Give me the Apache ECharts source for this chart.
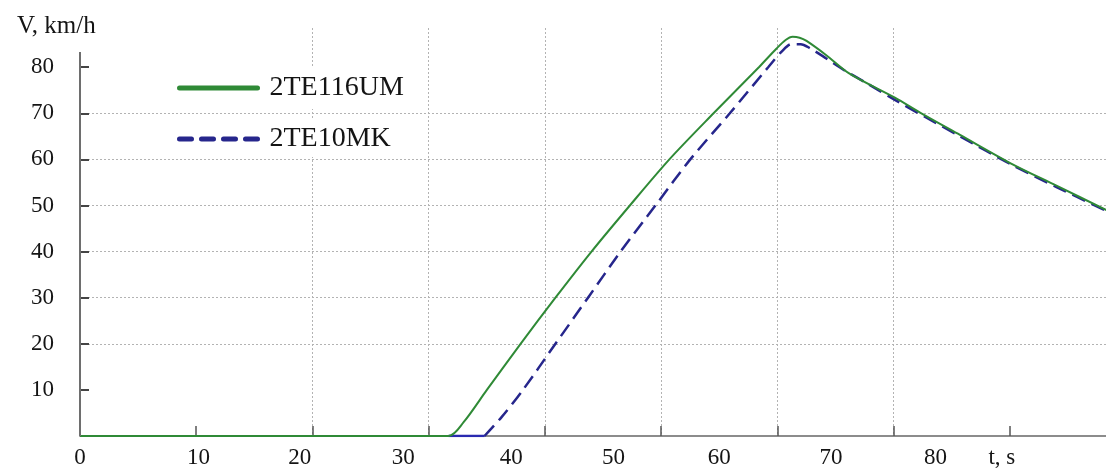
<!DOCTYPE html>
<html>
<head>
<meta charset="utf-8">
<script src="https://cdn.jsdelivr.net/npm/echarts@6/dist/echarts.min.js"></script>
<style>
  html, body { margin: 0; padding: 0; background: #fff; }
  #chart { width: 1106px; height: 470px; }
</style>
</head>
<body>
<div id="chart"></div>
<script>
// speed curves, [t, V] (t in grid units, 10 s per division)
var green = [
  [0, 0], [31.7, 0], [33.0, 3.0], [35.0, 10.0], [37.9, 20.0], [40.9, 30.0],
  [44.0, 40.0], [47.3, 50.0], [50.7, 60.0], [54.5, 70.0], [58.4, 80.0],
  [59.9, 84.0], [60.7, 85.9], [61.3, 86.6], [61.9, 86.4], [62.5, 85.7], [64.2, 82.6], [66.2, 78.6],
  [70.1, 73.4], [72.3, 70.1], [75.7, 65.3], [80.1, 59.1], [84.0, 54.3], [88.3, 49.0]
];
var blue = [
  [31.7, 0], [34.8, 0], [36.3, 4.2], [38.1, 10.0], [40.9, 20.0], [43.7, 30.0],
  [46.5, 40.0], [49.5, 50.0], [52.5, 60.0], [55.9, 70.0], [59.2, 80.0],
  [60.4, 83.5], [61.2, 85.0], [62.0, 85.0], [62.8, 84.1], [64.2, 81.9], [65.7, 79.4],
  [67.7, 76.5], [70.1, 72.9], [75.7, 65.0], [80.1, 58.9], [84.0, 54.0], [88.3, 48.8]
];
var seriesNames = ['2TE116UM', '2TE10MK'];

// grid ticks
var xTicks = [10, 20, 30, 40, 50, 60, 70, 80];
var yTicks = [10, 20, 30, 40, 50, 60, 70, 80];
// the printed t labels sit apart from the ticks in the original
var xLabelText = ['0', '10', '20', '30', '40', '50', '60', '70', '80', 't, s'];
var xLabelPos = [0, 10.2, 18.9, 27.8, 37.1, 45.9, 55.0, 64.6, 73.6, 79.3];
var yAxisTop = 83.3;

var font = 'Liberation Serif';
var txt = '#141414';

var chart = echarts.init(document.getElementById('chart'));

function legendBox(name, top, pad, line) {
  return {
    data: [name],
    left: 170, top: top,
    orient: 'vertical',
    padding: pad,
    backgroundColor: '#fff',
    itemWidth: 78, itemHeight: 14,
    selectedMode: false,
    lineStyle: line,
    itemStyle: { opacity: 0 },
    textStyle: { fontFamily: font, fontSize: 28, color: txt, padding: [4, 0, 0, 7] }
  };
}

var option = {
  animation: false,
  backgroundColor: '#fff',
  title: {
    text: 'V, km/h', left: 12, top: 9,
    textStyle: { fontFamily: font, fontSize: 25, fontWeight: 'normal', color: txt }
  },
  legend: [
    legendBox(seriesNames[0], 67, [7, 10, 7, 7], { width: 5, cap: 'round' }),
    legendBox(seriesNames[1], 118, [7, 10, 4, 7], { width: 5, type: [12, 10], cap: 'round' })
  ],
  grid: { left: 80, right: 0, top: 28, bottom: 34 },
  xAxis: [{
    type: 'value', min: 0, max: 88.26, interval: 10,
    axisLine: { lineStyle: { color: '#8c8c8c', width: 2 } },
    axisTick: { inside: true, length: 10, customValues: xTicks, lineStyle: { color: '#555', width: 1.5 } },
    axisLabel: { show: false },
    splitLine: { show: true, showMinLine: false, showMaxLine: false,
      lineStyle: { color: '#b3b3b3', width: 1, type: [2, 2] } }
  }, {
    type: 'value', position: 'bottom', min: 0, max: 88.26,
    axisLine: { show: false }, axisTick: { show: false }, splitLine: { show: false },
    axisLabel: {
      customValues: xLabelPos, margin: 10,
      fontFamily: font, fontSize: 23, color: txt,
      formatter: function (v) { return xLabelText[xLabelPos.indexOf(v)]; }
    }
  }],
  yAxis: {
    type: 'value', min: 0, max: 88.5, interval: 10,
    axisLine: { show: false },
    axisTick: { inside: true, length: 9, customValues: yTicks, lineStyle: { color: '#444', width: 2 } },
    axisLabel: { customValues: yTicks, margin: 26, fontFamily: font, fontSize: 23, color: txt },
    splitLine: { show: true, showMinLine: false, showMaxLine: false,
      lineStyle: { color: '#b3b3b3', width: 1, type: [2, 2] } }
  },
  series: [{
    name: seriesNames[1], type: 'line', data: blue.slice(1),
    symbol: 'none', smooth: 0.3, z: 2,
    itemStyle: { color: '#26268c' },
    lineStyle: { color: '#26268c', width: 2.5, type: [14, 7] }
  }, {
    // short solid blue piece lying on the time axis
    type: 'line', data: blue.slice(0, 2), symbol: 'none', z: 2,
    lineStyle: { color: '#2a2ab0', width: 2.5 }
  }, {
    name: seriesNames[0], type: 'line', data: green,
    symbol: 'none', smooth: 0.3, z: 3,
    itemStyle: { color: '#2f8a36' },
    lineStyle: { color: '#2f8a36', width: 2 },
    markLine: {
      silent: true, symbol: 'none', label: { show: false },
      lineStyle: { color: '#6e6e6e', width: 2, type: 'solid' },
      data: [[{ coord: [0, 0] }, { coord: [0, yAxisTop] }]]
    }
  }]
};
chart.setOption(option);
</script>
</body>
</html>
